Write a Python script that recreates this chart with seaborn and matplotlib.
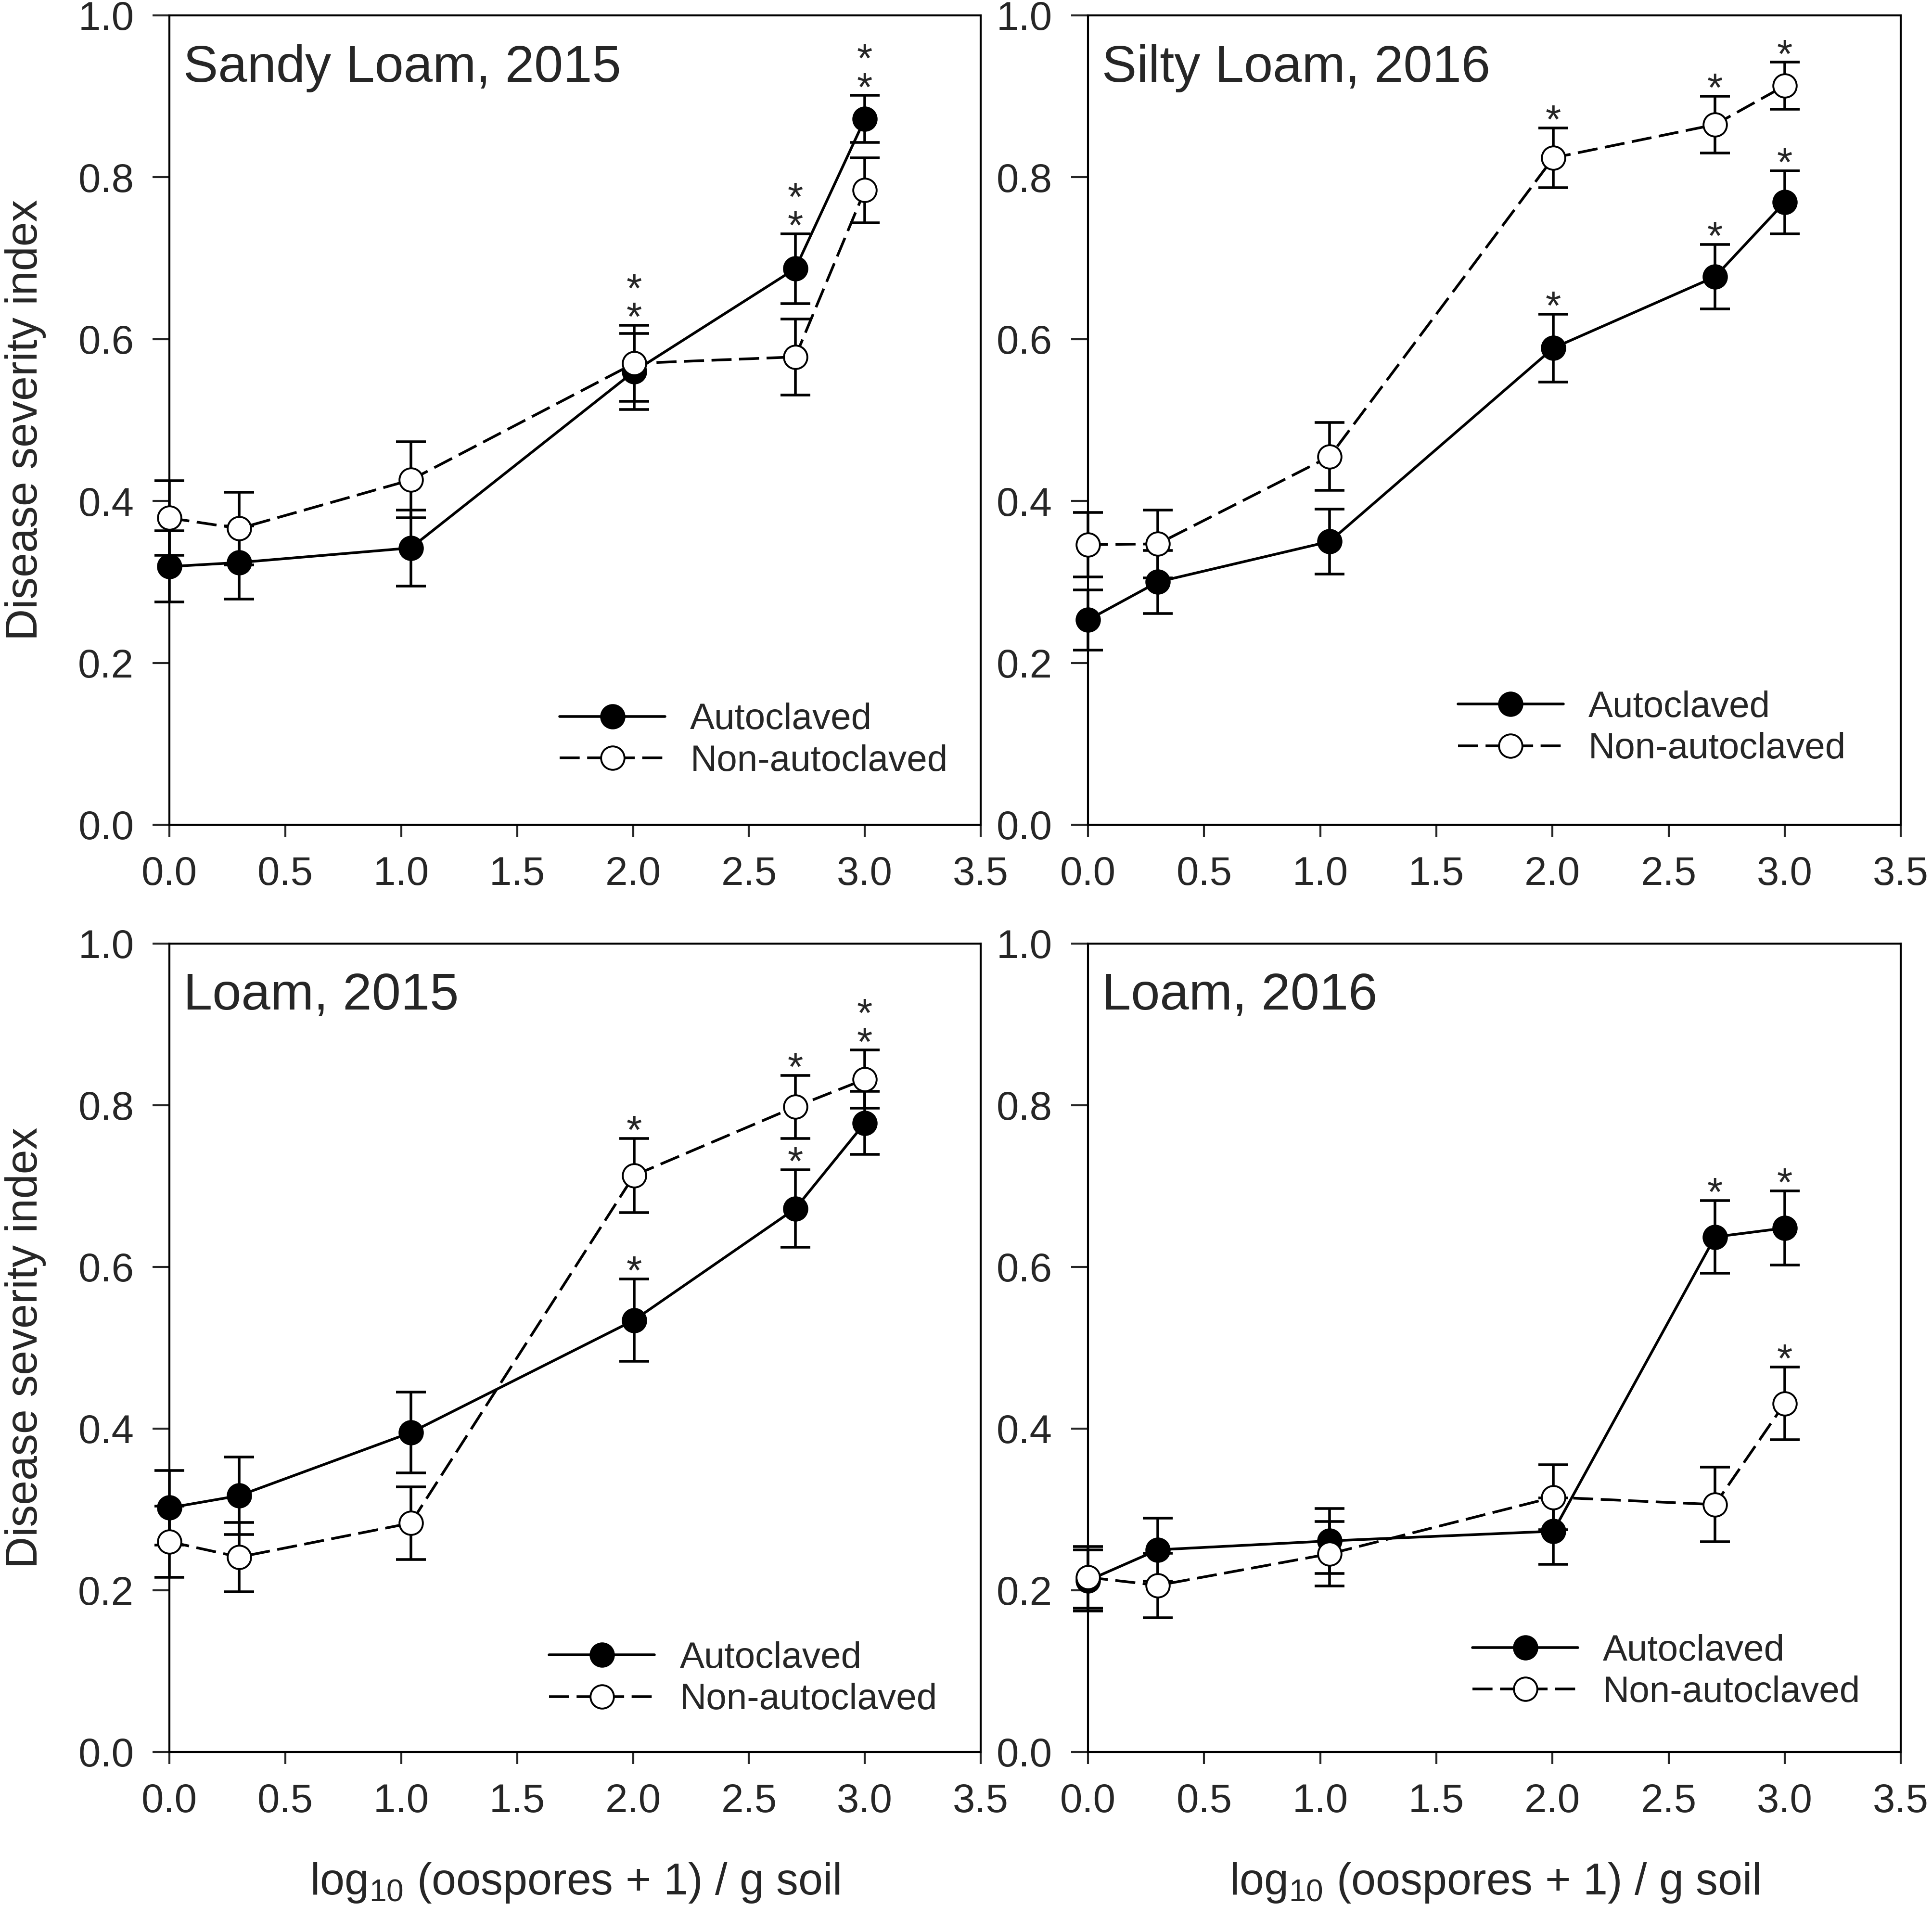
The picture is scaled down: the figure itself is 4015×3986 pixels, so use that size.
import numpy as np
import pandas as pd
import matplotlib
matplotlib.use('Agg')
import matplotlib.pyplot as plt
import seaborn as sns

# log10(oospores + 1) / g soil
x_vals = [0.0, 0.301, 1.041, 2.004, 2.700, 3.000]

panel_titles = ['Sandy Loam, 2015', 'Silty Loam, 2016', 'Loam, 2015', 'Loam, 2016']
series_names = ['Autoclaved', 'Non-autoclaved']

# disease severity index (mean) and standard error
sandy15_auto = [0.319, 0.324, 0.342, 0.560, 0.687, 0.872]
sandy15_auto_se = [0.044, 0.045, 0.047, 0.047, 0.043, 0.029]
sandy15_non = [0.379, 0.366, 0.426, 0.570, 0.578, 0.784]
sandy15_non_se = [0.046, 0.045, 0.047, 0.047, 0.047, 0.040]

silty16_auto = [0.253, 0.300, 0.350, 0.589, 0.677, 0.769]
silty16_auto_se = [0.037, 0.039, 0.040, 0.042, 0.040, 0.039]
silty16_non = [0.346, 0.347, 0.455, 0.824, 0.865, 0.913]
silty16_non_se = [0.040, 0.042, 0.042, 0.037, 0.035, 0.029]

loam15_auto = [0.302, 0.317, 0.395, 0.534, 0.672, 0.778]
loam15_auto_se = [0.046, 0.048, 0.050, 0.051, 0.048, 0.039]
loam15_non = [0.260, 0.241, 0.283, 0.713, 0.798, 0.832]
loam15_non_se = [0.044, 0.043, 0.045, 0.046, 0.039, 0.036]

loam16_auto = [0.212, 0.250, 0.261, 0.273, 0.637, 0.648]
loam16_auto_se = [0.038, 0.039, 0.040, 0.041, 0.045, 0.046]
loam16_non = [0.216, 0.206, 0.245, 0.315, 0.306, 0.431]
loam16_non_se = [0.038, 0.040, 0.040, 0.040, 0.046, 0.045]

# number of significance stars drawn above each error bar
sandy15_auto_stars = [0, 0, 0, 0, 2, 2]
sandy15_non_stars = [0, 0, 0, 2, 0, 0]
silty16_auto_stars = [0, 0, 0, 1, 1, 1]
silty16_non_stars = [0, 0, 0, 1, 1, 1]
loam15_auto_stars = [0, 0, 0, 1, 1, 0]
loam15_non_stars = [0, 0, 0, 1, 1, 2]
loam16_auto_stars = [0, 0, 0, 0, 1, 1]
loam16_non_stars = [0, 0, 0, 0, 0, 1]

panel_data = [
    (sandy15_auto, sandy15_auto_se, sandy15_auto_stars, sandy15_non, sandy15_non_se, sandy15_non_stars),
    (silty16_auto, silty16_auto_se, silty16_auto_stars, silty16_non, silty16_non_se, silty16_non_stars),
    (loam15_auto, loam15_auto_se, loam15_auto_stars, loam15_non, loam15_non_se, loam15_non_stars),
    (loam16_auto, loam16_auto_se, loam16_auto_stars, loam16_non, loam16_non_se, loam16_non_stars),
]

rows = []
for title, (am, ase, ast, nm, nse, nst) in zip(panel_titles, panel_data):
    for name, m, se, st in [(series_names[0], am, ase, ast), (series_names[1], nm, nse, nst)]:
        for xv, mv, sv, sc in zip(x_vals, m, se, st):
            rows.append({'panel': title, 'series': name, 'x': xv, 'mean': mv, 'se': sv, 'stars': sc})
df = pd.DataFrame(rows)

sns.set_style('ticks')
plt.rcParams['font.family'] = ['Liberation Sans', 'DejaVu Sans']
plt.rcParams['mathtext.default'] = 'regular'

fig = plt.figure(figsize=(20.08, 19.93), dpi=200)

# axes rectangles in figure fractions
rects = [
    [0.0877, 0.5700, 0.4198, 0.4220],
    [0.5630, 0.5700, 0.4206, 0.4220],
    [0.0877, 0.0866, 0.4198, 0.4215],
    [0.5630, 0.0866, 0.4206, 0.4215],
]
# legend anchor (handle start, middle between rows) in axes fractions
legend_pos = [(0.481, 0.104), (0.455, 0.119), (0.468, 0.090), (0.473, 0.099)]

styles = {
    'Autoclaved': dict(mfc='black', ls='-'),
    'Non-autoclaved': dict(mfc='white', ls=(0, (7.5, 2.8))),
}
lw = 2.0

for i, title in enumerate(panel_titles):
    ax = fig.add_axes(rects[i])
    sub = df[df['panel'] == title]
    for z, name in enumerate(series_names):
        s = sub[sub['series'] == name]
        ax.errorbar(s['x'], s['mean'], yerr=s['se'], fmt='none', ecolor='black',
                    elinewidth=lw, capsize=11, capthick=lw, zorder=2 + z * 2, clip_on=False)
        sns.lineplot(data=s, x='x', y='mean', ax=ax, color='black', lw=lw,
                     linestyle=styles[name]['ls'], marker='o', markersize=17.5,
                     markerfacecolor=styles[name]['mfc'], markeredgecolor='black',
                     markeredgewidth=1.4, label=name, zorder=3 + z * 2, clip_on=False)
        for xv, mv, sv, sc in zip(s['x'], s['mean'], s['se'], s['stars']):
            if sc > 0:
                ax.annotate('\n'.join(['*'] * int(sc)), xy=(xv, mv + sv), xytext=(0, -10),
                            textcoords='offset points', ha='center', va='bottom',
                            fontsize=30, linespacing=0.7, zorder=10)

    ax.set_xlim(0, 3.5)
    ax.set_ylim(0, 1.0)
    ax.set_xticks(np.arange(0, 3.51, 0.5))
    ax.set_yticks(np.arange(0, 1.01, 0.2))
    ax.xaxis.set_major_formatter(matplotlib.ticker.FormatStrFormatter('%.1f'))
    ax.yaxis.set_major_formatter(matplotlib.ticker.FormatStrFormatter('%.1f'))
    ax.tick_params(axis='x', direction='out', length=9, width=1.5, pad=14, labelsize=30)
    ax.tick_params(axis='y', direction='out', length=12.6, width=1.5, pad=14, labelsize=30)
    for sp in ax.spines.values():
        sp.set_visible(True)
        sp.set_linewidth(1.5)
        sp.set_color('black')

    ax.text(0.017, 0.918, title, transform=ax.transAxes, fontsize=39, ha='left', va='baseline')

    if i % 2 == 0:
        ax.set_ylabel('Disease severity index', fontsize=33)
        ax.yaxis.set_label_coords(-0.152, 0.5)
    else:
        ax.set_ylabel('')
    if i >= 2:
        ax.set_xlabel('log$_{10}$ (oospores + 1) / g soil', fontsize=33)
        ax.xaxis.set_label_coords(0.5, -0.135)
    else:
        ax.set_xlabel('')

    ax.legend(loc='center left', bbox_to_anchor=legend_pos[i], frameon=False,
              fontsize=27.5, handlelength=2.87, handletextpad=0.68, labelspacing=0.2,
              borderpad=0, borderaxespad=0)

fig.savefig('out.png', dpi=200)
